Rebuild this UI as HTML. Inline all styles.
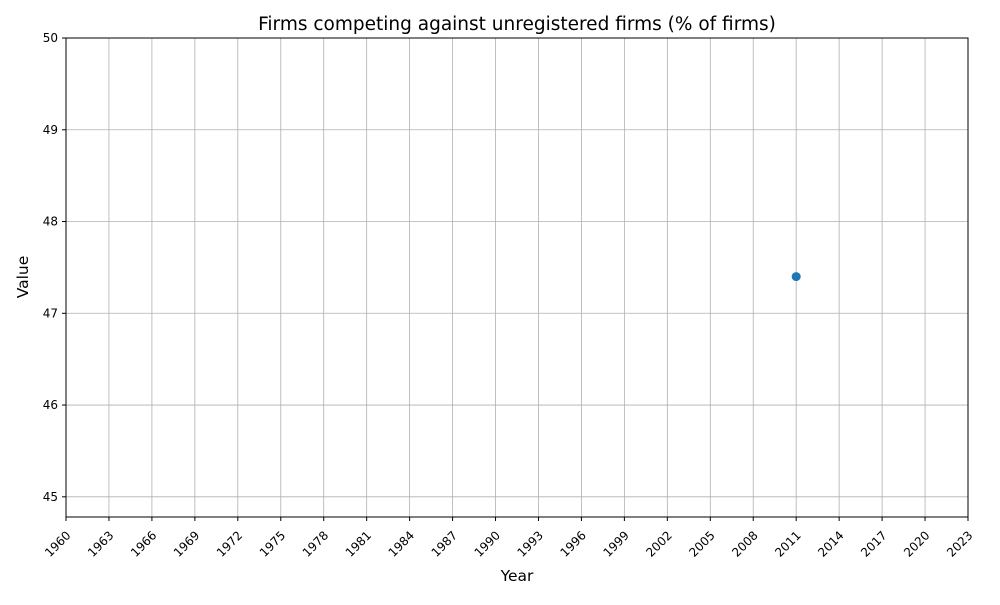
<!DOCTYPE html>
<html><head><meta charset="utf-8"><style>
body{margin:0;background:#fff;font-family:"Liberation Sans","DejaVu Sans",sans-serif;}
svg text{font-family:"DejaVu Sans","Liberation Sans",sans-serif;}
</style></head><body>
<svg id="chart" width="1000" height="600">
<text x="517" y="30" font-size="18.5" text-anchor="middle">Firms competing against unregistered firms (% of firms)</text>
<g id="grid"></g><g id="xt"></g><g id="yt"></g><g id="marks"></g>
<rect x="66" y="38" width="902" height="479" fill="none" stroke="#000" stroke-width="1"/>
<text x="517" y="581" font-size="15.5" text-anchor="middle">Year</text>
<text x="28" y="277" font-size="15.5" text-anchor="middle" transform="rotate(-90 28 277)">Value</text>
</svg>
<script>
const years=[2011];
const values=[47.4];
const xTicks=[1960,1963,1966,1969,1972,1975,1978,1981,1984,1987,1990,1993,1996,1999,2002,2005,2008,2011,2014,2017,2020,2023];
const yTicks=[45,46,47,48,49,50];
const NS="http://www.w3.org/2000/svg";
const L=66,R=968,T=38,B=517,xMin=1960,xMax=2023,yMin=44.78,yMax=50;
function xs(v){return L+(v-xMin)/(xMax-xMin)*(R-L);}
function ys(v){return B-(v-yMin)/(yMax-yMin)*(B-T);}
function mk(tag,a,p){const e=document.createElementNS(NS,tag);for(const k in a)e.setAttribute(k,a[k]);p.appendChild(e);return e;}
const g=document.getElementById('grid'),xt=document.getElementById('xt'),yt=document.getElementById('yt'),m=document.getElementById('marks');
xTicks.forEach(t=>{const x=xs(t);
const gl=mk('line',{x1:x,x2:x,y1:T,y2:B,stroke:'#b0b0b0','stroke-width':0.8},g);


mk('line',{x1:x,x2:x,y1:B,y2:B+4,stroke:'#000'},xt);
const tx=mk('text',{x:x,y:B+18,'font-size':12,'text-anchor':'end',transform:`rotate(-45 ${x+4} ${B+12})`},xt);
tx.textContent=t;

});
yTicks.forEach(t=>{const y=ys(t);
const gl=mk('line',{x1:L,x2:R,y1:y,y2:y,stroke:'#b0b0b0','stroke-width':0.8},g);


mk('line',{x1:L-4,x2:L,y1:y,y2:y,stroke:'#000'},yt);
const tx=mk('text',{x:L-8,y:y+4,'font-size':12,'text-anchor':'end'},yt);
tx.textContent=t;

});
years.forEach((yr,i)=>{const c=mk('circle',{cx:xs(yr),cy:ys(values[i]),r:4.5,fill:'#1f77b4'},m);

});
</script>
</body></html>
